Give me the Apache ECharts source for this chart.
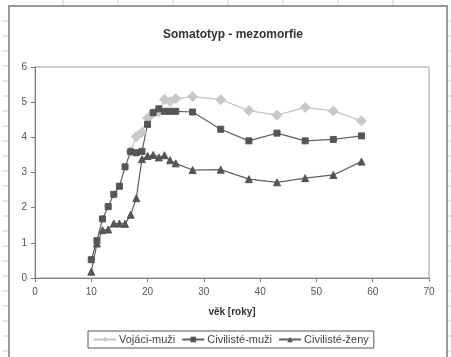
<!DOCTYPE html>
<html>
<head>
<meta charset="utf-8">
<script src="https://cdn.jsdelivr.net/npm/echarts@6/dist/echarts.min.js"></script>
<style>
  html, body { margin: 0; padding: 0; background: #fff; }
  #chart { width: 451px; height: 357px; }
</style>
</head>
<body>
<div id="chart"></div>
<script>
// Mesomorphy component of the somatotype by age
const title = 'Somatotyp - mezomorfie';
const xName = 'věk [roky]';
const seriesNames = ['Vojáci-muži', 'Civilisté-muži', 'Civilisté-ženy'];

const vojaciAge = [17, 18, 19, 20, 21, 22, 23, 24, 25, 28, 33, 38, 43, 48, 53, 58];
const vojaciVal = [3.6, 4.02, 4.14, 4.55, 4.69, 4.72, 5.08, 5.02, 5.1, 5.16, 5.07, 4.76, 4.63, 4.85, 4.75, 4.47];

const civMuziAge = [10, 11, 12, 13, 14, 15, 16, 17, 18, 19, 20, 21, 22, 23, 24, 25, 28, 33, 38, 43, 48, 53, 58];
const civMuziVal = [0.52, 1.06, 1.68, 2.03, 2.38, 2.61, 3.16, 3.59, 3.56, 3.6, 4.37, 4.7, 4.81, 4.74, 4.74, 4.74, 4.72, 4.23, 3.9, 4.12, 3.9, 3.94, 4.04];

const civZenyAge = [10, 11, 12, 13, 14, 15, 16, 17, 18, 19, 20, 21, 22, 23, 24, 25, 28, 33, 38, 43, 48, 53, 58];
const civZenyVal = [0.18, 0.98, 1.36, 1.38, 1.55, 1.55, 1.54, 1.8, 2.27, 3.38, 3.47, 3.5, 3.43, 3.49, 3.35, 3.26, 3.07, 3.08, 2.81, 2.72, 2.84, 2.93, 3.31];

const pairs = (xs, ys) => xs.map((x, i) => [x, ys[i]]);

// Sheet frame around the chart plus the faint row/column markers at the edges
const frame = [];
frame.push({ type: 'rect', shape: { x: 9, y: 6, width: 438, height: 360 },
  style: { fill: 'none', stroke: '#9a9a9a', lineWidth: 2 }, silent: true });
for (let y = 21; y < 357; y += 15) {
  frame.push({ type: 'line', shape: { x1: 3, y1: y, x2: 8, y2: y }, style: { stroke: '#cfcfcf', lineWidth: 1 }, silent: true });
  frame.push({ type: 'line', shape: { x1: 448, y1: y, x2: 451, y2: y }, style: { stroke: '#cfcfcf', lineWidth: 1 }, silent: true });
}
for (let x = 63; x < 447; x += 55) {
  frame.push({ type: 'line', shape: { x1: x, y1: 0, x2: x, y2: 5 }, style: { stroke: '#cfcfcf', lineWidth: 1 }, silent: true });
}

const chart = echarts.init(document.getElementById('chart'), null, { renderer: 'canvas' });
chart.setOption({
  animation: false,
  backgroundColor: '#fff',
  textStyle: { fontFamily: 'Liberation Sans, Arial, sans-serif' },
  title: {
    text: title,
    left: 228, top: 24, textAlign: 'center',
    textStyle: { fontSize: 12, fontWeight: 'bold', color: '#333' }
  },
  graphic: frame,
  grid: {
    left: 35, top: 67, right: 22, bottom: 79,
    show: true, borderColor: '#9a9a9a', borderWidth: 1, backgroundColor: '#fff'
  },
  legend: {
    left: 88, top: 331,
    padding: [3, 5],
    itemGap: 6,
    itemWidth: 22, itemHeight: 7,
    borderColor: '#555', borderWidth: 1,
    textStyle: { fontSize: 11, color: '#444', padding: [0, 0, 0, -2] },
    data: seriesNames
  },
  xAxis: {
    type: 'value', min: 0, max: 70, interval: 10,
    name: xName, nameLocation: 'middle', nameGap: 29,
    nameTextStyle: { fontSize: 10, fontWeight: 'bold', color: '#333' },
    axisLine: { lineStyle: { color: '#808080' } },
    axisTick: { length: 4, lineStyle: { color: '#808080' } },
    axisLabel: { fontSize: 10, color: '#555', margin: 9 },
    splitLine: { show: false }
  },
  yAxis: {
    type: 'value', min: 0, max: 6, interval: 1,
    axisLine: { show: true, lineStyle: { color: '#808080' } },
    axisTick: { show: true, length: 4, lineStyle: { color: '#808080' } },
    axisLabel: { fontSize: 10, color: '#555', margin: 8 },
    splitLine: { show: false }
  },
  series: [
    {
      name: seriesNames[0], type: 'line', data: pairs(vojaciAge, vojaciVal),
      symbol: 'diamond', symbolSize: 10,
      lineStyle: { color: '#c4c4c4', width: 1.3 },
      itemStyle: { color: '#c8c8c8', borderColor: '#c8c8c8' }
    },
    {
      name: seriesNames[1], type: 'line', data: pairs(civMuziAge, civMuziVal),
      symbol: 'rect', symbolSize: 6,
      lineStyle: { color: '#606060', width: 1.2 },
      itemStyle: { color: '#555', borderColor: '#555' }
    },
    {
      name: seriesNames[2], type: 'line', data: pairs(civZenyAge, civZenyVal),
      symbol: 'triangle', symbolSize: 7,
      lineStyle: { color: '#606060', width: 1.2 },
      itemStyle: { color: '#555', borderColor: '#555' }
    }
  ]
});
</script>
</body>
</html>
